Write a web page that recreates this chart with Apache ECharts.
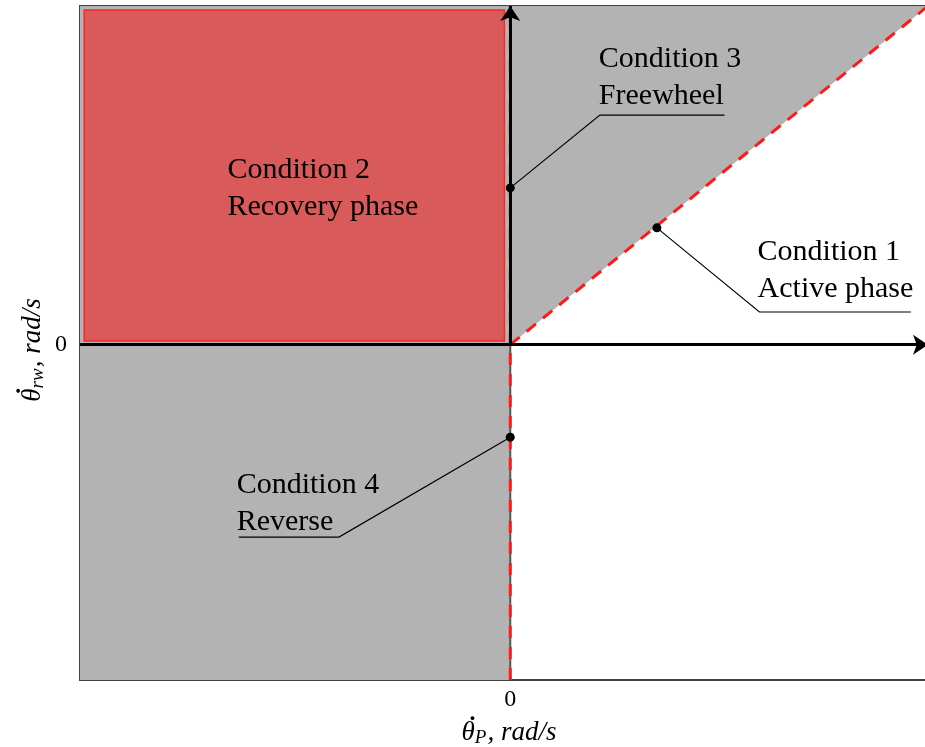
<!DOCTYPE html>
<html>
<head>
<meta charset="utf-8">
<style>
    html, body { margin: 0; padding: 0; background: #fff; }
    #ecPhase { width: 925px; height: 747px; }
</style>
<script src="https://cdn.jsdelivr.net/npm/echarts@6/dist/echarts.min.js"></script>
</head>
<body>
<div id="ecPhase"></div>
<script>
// axis extents (data units), zero crossing sits inside
var xLimits = [-1.03, 1];
var yLimits = [-0.99, 1];
var tickValues = [0];

// regions
var grayLeftHalf = [[-1.03, -0.99], [0, -0.99], [0, 1], [-1.03, 1]];
var grayWedge = [[0, 0], [1, 1], [0, 1]];
var recoveryBox = [[-1.02, 0.011], [-0.014, 0.011], [-0.014, 0.988], [-1.02, 0.988]];

// boundaries
var boundaryVertical = [[0, -0.99], [0, 1]];
var boundaryDiagonal = [[0, 0], [1, 1]];

// annotations
var labelTexts = ['Condition 1\nActive phase', 'Condition 2\nRecovery phase', 'Condition 3\nFreewheel', 'Condition 4\nReverse'];
var labelAnchors = [[0.592, 0.219], [-0.677, 0.461], [0.212, 0.789], [-0.655, -0.468]];
var markerPoints = [[0.351, 0.345], null, [0, 0.463], [0, -0.273]];
var elbowPoints = [[0.5965, 0.0965], null, [0.2145, 0.678], [-0.410, -0.568]];
var underlineEnds = [[0.959, 0.0965], null, [0.5127, 0.678], [-0.650, -0.568]];

var serif = 'Liberation Serif';
// dotted theta: dot on its own thin line above the theta
var nameRich = {
    d: { fontFamily: serif, fontSize: 24, fontWeight: 'bold', color: '#000', align: 'left', lineHeight: 2, padding: [0, 0, 0, 7] },
    th: { fontFamily: serif, fontStyle: 'italic', fontSize: 27, color: '#000', align: 'left', lineHeight: 24 },
    sub: { fontFamily: serif, fontStyle: 'italic', fontSize: 19, color: '#000', align: 'left', lineHeight: 17, padding: [10, 1, 0, 0] },
    it: { fontFamily: serif, fontStyle: 'italic', fontSize: 27, color: '#000', align: 'left', lineHeight: 24 }
};

getechart('ecPhase', {
    animation: false,
    grid: {
        left: 80,
        right: -3,
        top: 6,
        bottom: 67,
        outerBoundsMode: 'none',
        containLabel: false,
        show: true,
        borderColor: '#444',
        borderWidth: 2,
        backgroundColor: 'transparent'
    },
    xAxis: {
        type: 'value',
        min: xLimits[0],
        max: xLimits[1],
        splitLine: { show: false },
        axisTick: { show: false },
        axisLine: { onZero: false, lineStyle: { color: '#444', width: 2 } },
        axisLabel: {
            customValues: tickValues,
            margin: 8,
            color: '#000',
            fontFamily: serif,
            fontSize: 24
        },
        name: '{d|·}\n{th|θ}{sub|P}{it|, rad/s}',
        nameLocation: 'middle',
        nameGap: 39,
        nameMoveOverlap: false,
        nameTextStyle: {
            padding: [0, 0, 0, 10],
            rich: nameRich
        }
    },
    yAxis: {
        type: 'value',
        min: yLimits[0],
        max: yLimits[1],
        splitLine: { show: false },
        axisTick: { show: false },
        axisLine: { onZero: false, lineStyle: { color: '#444', width: 2 } },
        axisLabel: {
            customValues: tickValues,
            margin: 13,
            color: '#000',
            fontFamily: serif,
            fontSize: 24
        },
        name: '{d|·}\n{th|θ}{sub|rw}{it|, rad/s}',
        nameLocation: 'middle',
        nameRotate: 90,
        nameGap: 35,
        nameMoveOverlap: false,
        nameTextStyle: {
            padding: [0, 14, 0, 0],
            rich: nameRich
        }
    },
    series: [
        {
            // shaded regions
            type: 'custom',
            silent: true,
            z: 1,
            clip: true,
            data: [grayLeftHalf[0], grayWedge[0], recoveryBox[0]],
            renderItem: function (params, api) {
                var polys = [grayLeftHalf, grayWedge, recoveryBox];
                var pts = polys[params.dataIndex].map(function (p) { return api.coord(p); });
                var isRed = params.dataIndex === 2;
                return {
                    type: 'polygon',
                    shape: { points: pts },
                    style: {
                        fill: isRed ? '#d85a5a' : '#b3b3b3',
                        stroke: isRed ? '#ff2525' : null,
                        lineWidth: isRed ? 1.5 : 0
                    }
                };
            }
        },
        {
            // gray zero line under the dashes
            type: 'line',
            silent: true,
            z: 2,
            symbol: 'none',
            data: boundaryVertical,
            lineStyle: { color: '#555', width: 2 }
        },
        {
            // black axes arrows
            type: 'line',
            silent: true,
            z: 3,
            symbol: 'none',
            clip: false,
            data: [],
            markLine: {
                silent: true,
                symbol: ['none', 'arrow'],
                symbolSize: 15,
                label: { show: false },
                lineStyle: { color: '#000', width: 3, type: 'solid' },
                data: [
                    [{ coord: [xLimits[0], 0] }, { coord: [xLimits[1], 0] }],
                    [{ coord: [0, 0] }, { coord: [0, yLimits[1]] }]
                ]
            }
        },
        {
            type: 'line',
            silent: true,
            z: 4,
            symbol: 'none',
            data: boundaryVertical,
            lineStyle: { color: '#ff1a1a', width: 3, type: [12, 9] }
        },
        {
            type: 'line',
            silent: true,
            z: 4,
            symbol: 'none',
            data: boundaryDiagonal,
            lineStyle: { color: '#ff1a1a', width: 3, type: [12, 9] }
        },
        {
            // leaders and labels
            type: 'custom',
            silent: true,
            z: 5,
            clip: false,
            data: labelAnchors,
            renderItem: function (params, api) {
                var i = params.dataIndex;
                var children = [];
                if (markerPoints[i]) {
                    children.push({
                        type: 'polyline',
                        shape: { points: [api.coord(markerPoints[i]), api.coord(elbowPoints[i]), api.coord(underlineEnds[i])] },
                        style: { stroke: '#000', lineWidth: 1.2, fill: null }
                    });
                    var c = api.coord(markerPoints[i]);
                    children.push({
                        type: 'circle',
                        shape: { cx: c[0], cy: c[1], r: 4.5 },
                        style: { fill: '#000' }
                    });
                }
                var a = api.coord(labelAnchors[i]);
                children.push({
                    type: 'text',
                    x: a[0],
                    y: a[1],
                    style: {
                        text: labelTexts[i],
                        fill: '#000',
                        font: '30px "Liberation Serif"',
                        lineHeight: 37,
                        align: 'left',
                        verticalAlign: 'middle'
                    }
                });
                return { type: 'group', children: children };
            }
        }
    ]
});

function getechart(idName, idOption) {
    var id = echarts.init(document.getElementById(idName));
    id.setOption(idOption);
    adaptionWindows(id);
}

function adaptionWindows(chartName) {
    window.addEventListener('resize', function () {
        chartName.resize();
    });
}
</script>
</body>
</html>
